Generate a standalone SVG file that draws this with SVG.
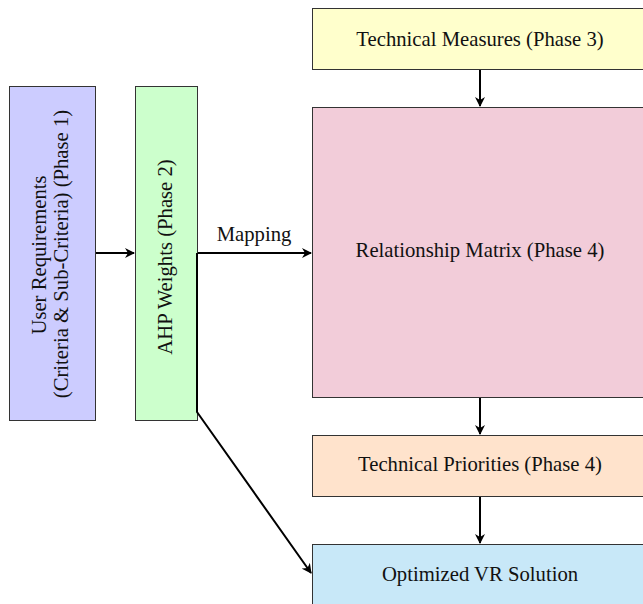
<svg xmlns="http://www.w3.org/2000/svg" width="643" height="604" viewBox="0 0 643 604">
<defs>
<style>
.box{stroke:#333;stroke-width:1}
.t{font-family:"Liberation Serif","Times New Roman",serif;font-size:20.7px;fill:#111;text-anchor:middle}
.c{stroke:#000;stroke-width:2;fill:none;marker-end:url(#ah)}
</style>
<marker id="ah" viewBox="0 0 10 10" refX="9" refY="5" markerWidth="5" markerHeight="5" orient="auto" markerUnits="strokeWidth">
<path d="M0,0 L10,5 L0,10 L3,5 Z" fill="#000"/>
</marker>
</defs>
<rect width="643" height="604" fill="#fff"/>
<g id="user-requirements">
<rect class="box" x="9.5" y="86.5" width="86" height="334" fill="#ccccff"/>
<text class="t" transform="translate(46,255) rotate(-90)">User Requirements</text>
<text class="t" transform="translate(68,254) rotate(-90)">(Criteria &amp; Sub-Criteria) (Phase 1)</text>
</g>
<g id="ahp-weights">
<rect class="box" x="135.5" y="86.5" width="62" height="334" fill="#ccffcc"/>
<text class="t" transform="translate(172,257) rotate(-90)">AHP Weights (Phase 2)</text>
</g>
<g id="technical-measures">
<rect class="box" x="312.5" y="8.5" width="336" height="61" fill="#ffffcc"/>
<text class="t" x="480" y="46">Technical Measures (Phase 3)</text>
</g>
<g id="relationship-matrix">
<rect class="box" x="312.5" y="107.5" width="336" height="290" fill="#f2ccd9"/>
<text class="t" x="480" y="257">Relationship Matrix (Phase 4)</text>
</g>
<g id="technical-priorities">
<rect class="box" x="312.5" y="435.5" width="336" height="61" fill="#ffe3cc"/>
<text class="t" x="480" y="471">Technical Priorities (Phase 4)</text>
</g>
<g id="optimized-vr-solution">
<rect class="box" x="312.5" y="544.5" width="336" height="61" fill="#c8e8f8"/>
<text class="t" x="480" y="581">Optimized VR Solution</text>
</g>
<g id="connectors">
<path class="c" d="M96,253 L134,253"/>
<path class="c" d="M198,253 L311,253"/>
<text class="t" x="254" y="241">Mapping</text>
<path class="c" d="M197,253 L197,412 L311,573"/>
<path class="c" d="M480,70 L480,106"/>
<path class="c" d="M480,398 L480,434"/>
<path class="c" d="M480,497 L480,543"/>
</g>
</svg>
